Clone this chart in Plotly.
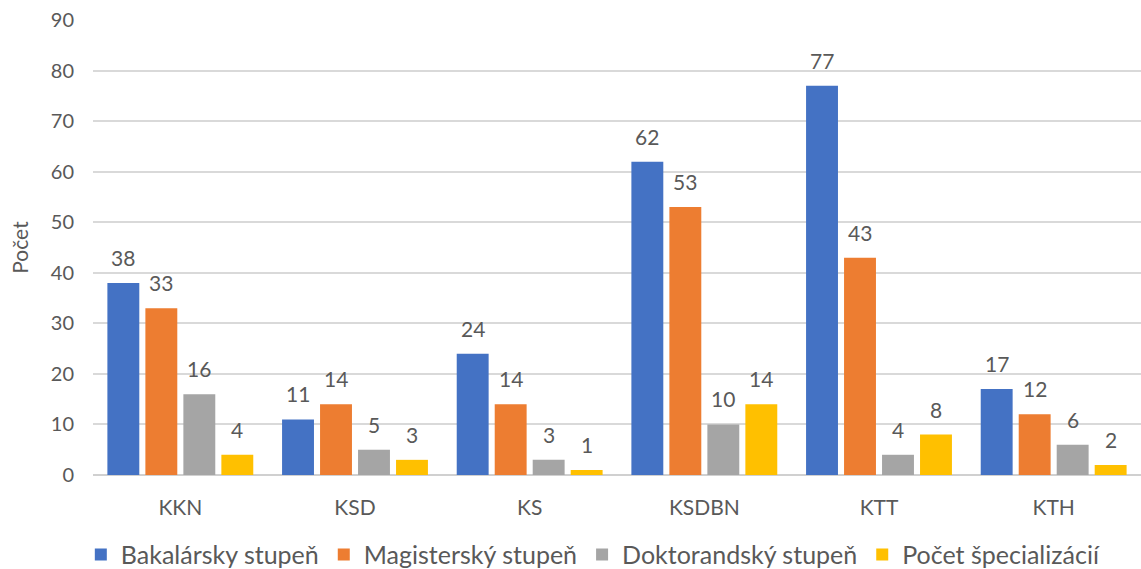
import plotly.graph_objects as go

categories = ["KKN", "KSD", "KS", "KSDBN", "KTT", "KTH"]
series_names = ["Bakalársky stupeň", "Magisterský stupeň", "Doktorandský stupeň", "Počet špecializácií"]
bakalarsky = [38, 11, 24, 62, 77, 17]
magistersky = [33, 14, 14, 53, 43, 12]
doktorandsky = [16, 5, 3, 10, 4, 6]
specializacie = [4, 3, 1, 14, 8, 2]
colors = ["#4472C4", "#ED7D31", "#A5A5A5", "#FFC000"]
y_ticks = [0, 10, 20, 30, 40, 50, 60, 70, 80, 90]

FONT = "Lato"
TXT = "#595959"
BARGAP = 0.13
BARGROUPGAP = 0.16

all_series = [bakalarsky, magistersky, doktorandsky, specializacie]
n = len(all_series)
slot = (1 - BARGAP) / n

fig = go.Figure()
for j, (name, vals, col) in enumerate(zip(series_names, all_series, colors)):
    fig.add_trace(go.Bar(
        name=name, x=categories, y=vals,
        marker=dict(color=col, line=dict(width=0)),
    ))
    for i, v in enumerate(vals):
        fig.add_annotation(
            x=i + (j - (n - 1) / 2) * slot, y=v, xref="x", yref="y",
            text=str(v), showarrow=False, yanchor="bottom", yshift=11,
            font=dict(family=FONT, size=21, color=TXT),
        )

fig.update_layout(
    width=1141, height=569,
    barmode="group", bargap=BARGAP, bargroupgap=BARGROUPGAP,
    plot_bgcolor="white", paper_bgcolor="white",
    margin=dict(l=93, r=0, t=20, b=94),
    font=dict(family=FONT, color=TXT, size=19),
    showlegend=True,
    legend=dict(orientation="h", x=0.52, xanchor="center", y=0.025, yanchor="middle",
                yref="container", xref="container",
                font=dict(family=FONT, size=25, color=TXT), traceorder="normal",
                itemwidth=30),
    xaxis=dict(showgrid=False, tickfont=dict(family=FONT, size=21, color=TXT),
               ticks="", showline=False, automargin=False, ticklabelstandoff=18),
    yaxis=dict(range=[0, 90.02], tickvals=y_ticks, showgrid=True, gridcolor="#D9D9D9", gridwidth=1.5,
               zeroline=True, zerolinecolor="#D0D0D0", zerolinewidth=2,
               tickfont=dict(family=FONT, size=20, color=TXT), ticks="",
               ticklabelstandoff=18, automargin=False,
               title=dict(text="Počet", font=dict(family=FONT, size=21, color=TXT), standoff=16)),
)

fig.write_html("out.html", config={"displayModeBar": False},
               post_script="document.body.style.margin='0';document.body.style.overflow='hidden';")
